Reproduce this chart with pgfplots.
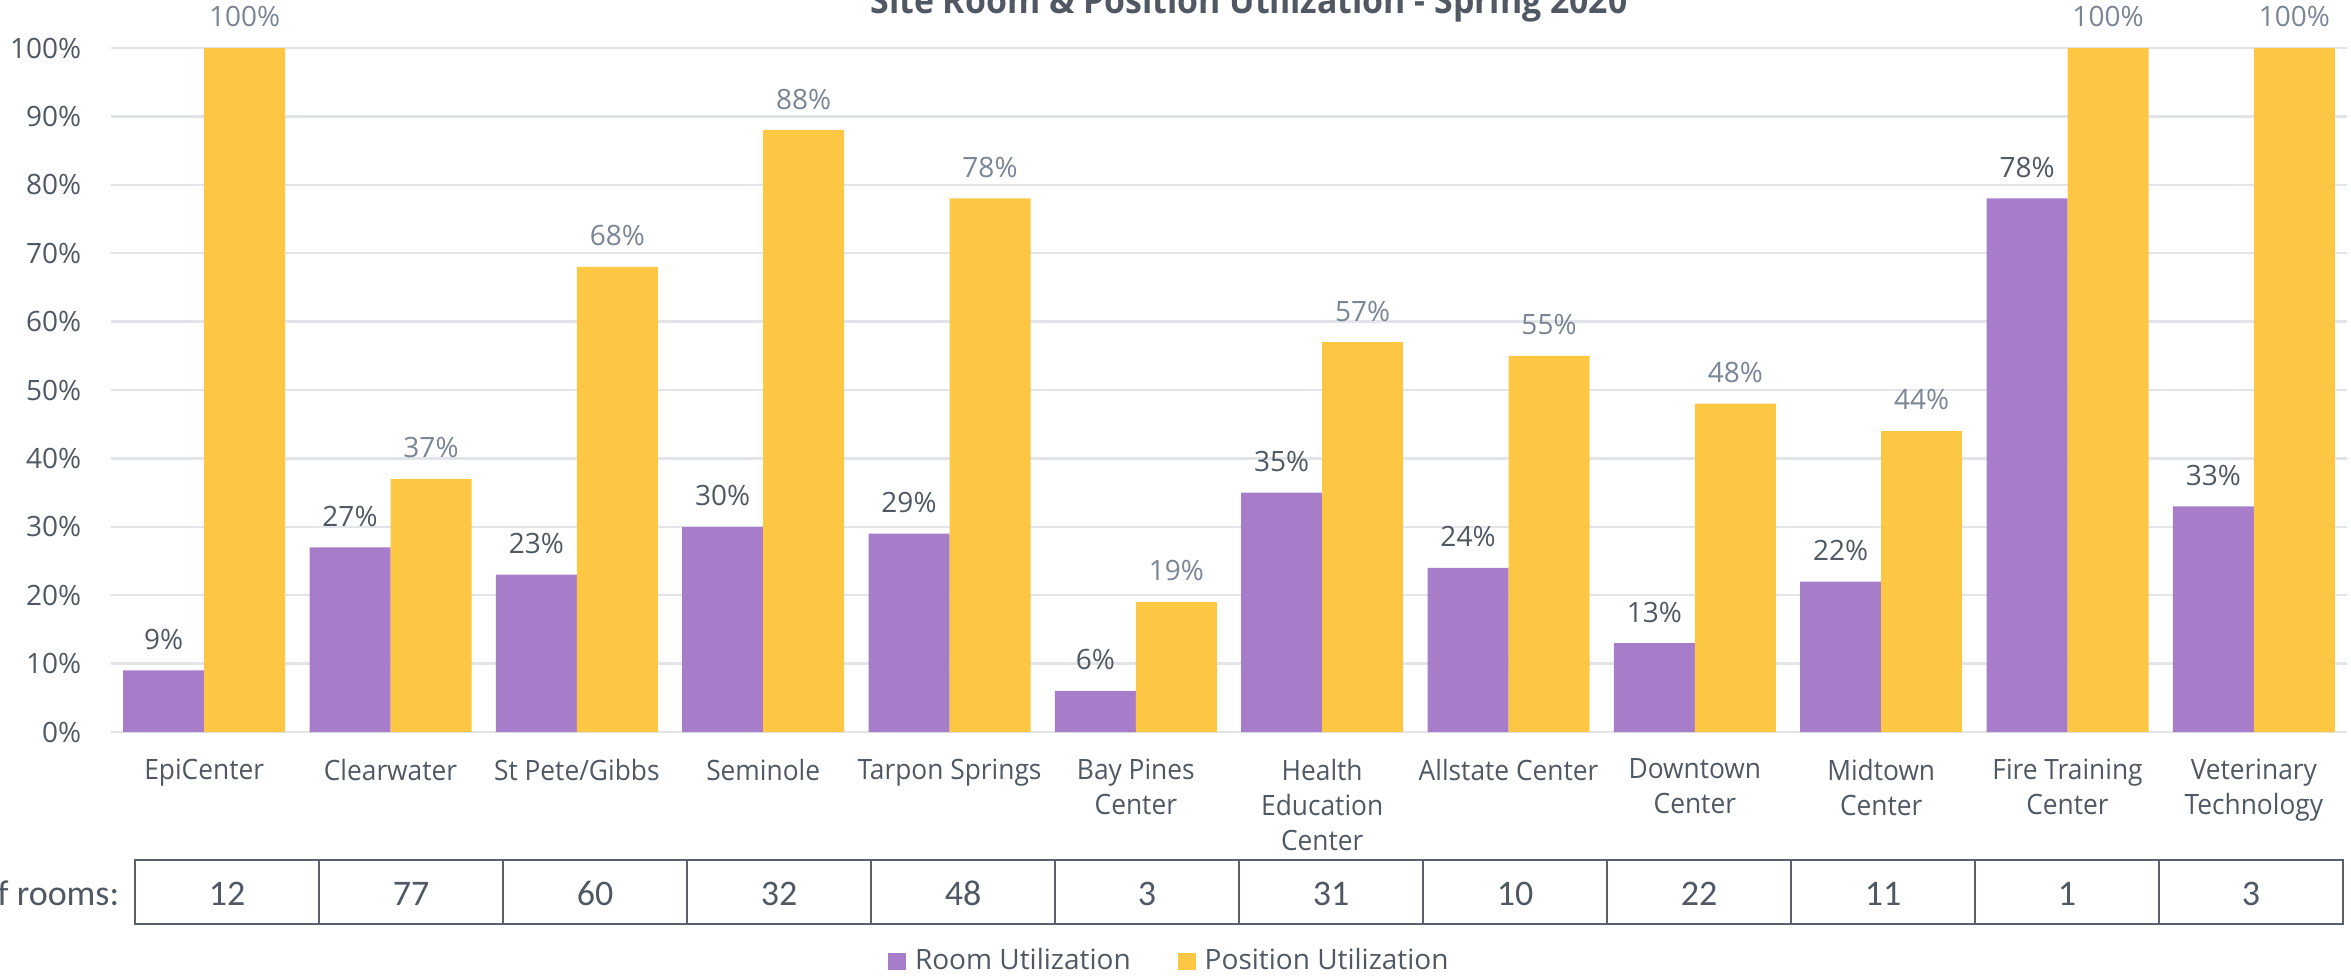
\documentclass[border=0pt]{standalone}
\usepackage{pgfplots}
\pgfplotsset{compat=1.18}
\usepackage{graphicx}
\usepackage{fontspec}
\setmainfont{Open Sans}
\newfontfamily\catfont[FakeStretch=0.94]{Open Sans}
\newfontfamily\calibri{Carlito}
\definecolor{purp}{HTML}{A77CC9}
\definecolor{yell}{HTML}{FDC743}
\definecolor{slate}{HTML}{505863}
\definecolor{lslate}{HTML}{7A8595}
\definecolor{gridc}{HTML}{E1E5EA}
\definecolor{tabc}{HTML}{5B616A}
\begin{document}
\begin{tikzpicture}
\useasboundingbox (0pt,0pt) rectangle (587.75pt,244.25pt);
\clip (0pt,0pt) rectangle (587.75pt,244.25pt);
\begin{axis}[
  at={(27.75pt,61.25pt)}, anchor=south west,
  scale only axis, width=559pt, height=171pt,
  xmin=-0.5, xmax=11.5, ymin=0, ymax=100,
  ybar=0pt, bar width=20.25pt,
  clip=false,
  axis line style={draw=none},
  major tick length=0pt,
  ymajorgrids, grid style={color=gridc, line width=0.6pt},
  ytick={0,10,...,100},
  /pgf/number format/assume math mode=true,
  yticklabel={\pgfmathprintnumber{\tick}\%},
  yticklabel style={anchor=east, inner sep=0pt, xshift=-7.25pt, text=slate, font=\fontsize{7}{8.75}\selectfont},
  xtick={0,...,11},
  xticklabels={EpiCenter, Clearwater, St Pete/Gibbs, Seminole, Tarpon Springs, {Bay Pines\\Center}, {Health\\Education\\Center}, Allstate Center, {Downtown\\Center}, {Midtown\\Center}, {Fire Training\\Center}, {Veterinary\\Technology}},
  xticklabel style={anchor=north, inner sep=0pt, yshift=-6.5pt, align=center, text=slate, font=\catfont\fontsize{7}{8.75}\selectfont},
  nodes near coords={\pgfmathprintnumber{\pgfplotspointmeta}\%},
  nodes near coords style={anchor=south, inner sep=0pt, yshift=5pt, font=\fontsize{7}{8.75}\selectfont},
  legend style={draw=none, fill=none, at={(0.3475,-0.3355)}, anchor=west, legend columns=2, inner sep=0pt, outer sep=0pt,
    font=\fontsize{7}{8.75}\selectfont, text=slate, nodes={inner sep=0pt},
    column sep=2.25pt,
    /tikz/every even column/.append style={column sep=11.75pt}},
  legend image code/.code={\fill[#1] (0pt,-2.125pt) rectangle (4.5pt,2.125pt);},
]
\addplot[fill=purp, draw=none, nodes near coords style={text=slate}] coordinates {
 (0,9) (1,27) (2,23) (3,30) (4,29) (5,6) (6,35) (7,24) (8,13) (9,22) (10,78) (11,33)};
\addlegendentry{Room Utilization}
\addplot[fill=yell, draw=none, nodes near coords style={text=lslate}] coordinates {
 (0,100) (1,37) (2,68) (3,88) (4,78) (5,19) (6,57) (7,55) (8,48) (9,44) (10,100) (11,100)};
\addlegendentry{Position Utilization}
\end{axis}
\begin{scope}[x=0.25pt,y=0.25pt]
% title
\node[anchor=base, inner sep=0pt, text=slate] at (1249,963.5) {\scalebox{0.94}[1]{\fontsize{9}{10}\selectfont\bfseries Site Room \& Position Utilization - Spring 2020}};
% rooms table
\draw[tabc, line width=0.5pt] (135,53) rectangle (2343,117);
\foreach \k in {1,...,11} \draw[tabc, line width=0.5pt] ({135+184*\k},53) -- ({135+184*\k},117);
\foreach \n [count=\i from 0] in {12,77,60,32,48,3,31,10,22,11,1,3}
  \node[anchor=base, inner sep=0pt, text=slate, font=\calibri\fontsize{9}{11}\selectfont] at ({227+184*\i},72) {\n};
\node[anchor=base east, inner sep=0pt, text=slate, font=\calibri\fontsize{9}{11}\selectfont] at (120,72) {\# of rooms:};
\end{scope}
\end{tikzpicture}
\end{document}
